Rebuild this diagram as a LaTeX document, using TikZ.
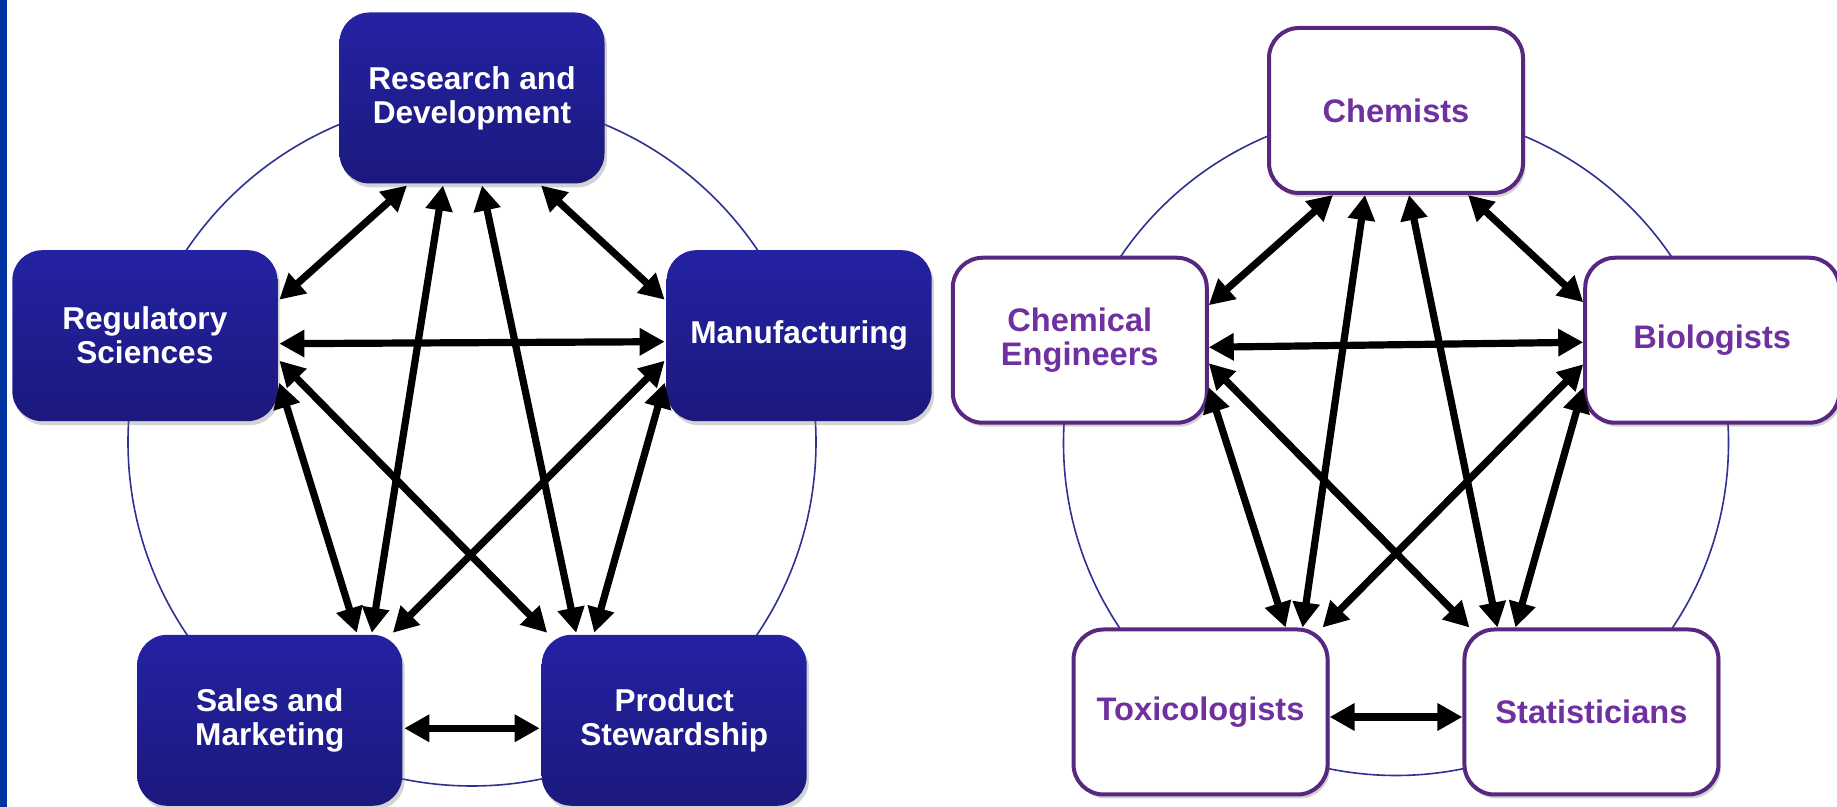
\documentclass[tikz,border=0pt]{standalone}
\usepackage{fontspec}
\setmainfont{Liberation Sans}
\usetikzlibrary{arrows.meta,calc,shadows}
\definecolor{barblue}{RGB}{0,51,160}
\definecolor{boxtop}{RGB}{36,34,162}
\definecolor{boxbot}{RGB}{27,25,125}
\definecolor{ringblue}{RGB}{46,49,146}
\definecolor{purpline}{RGB}{88,40,128}
\definecolor{purptext}{RGB}{112,48,160}

\begin{document}
\begin{tikzpicture}[x=0.5pt,y=0.5pt,
	box/.style={rectangle,rounded corners=15pt,align=center,outer sep=1pt,
		drop shadow={opacity=0.35,shadow xshift=1.2pt,shadow yshift=-2pt}},
	bluebox/.style={box,minimum width=132.5pt,minimum height=85.5pt,
		top color=boxtop,bottom color=boxbot,text=white,
		font=\bfseries\fontsize{15.8}{17}\selectfont},
	whitebox/.style={box,minimum width=127pt,minimum height=82.5pt,
		draw=purpline,line width=2pt,fill=white,text=purptext,
		font=\bfseries\fontsize{16.3}{17}\selectfont},
	ring/.style={ringblue,line width=0.8pt},
	twoway/.style={line width=3.6pt,
		{Triangle[length=12.5pt,width=13pt]}-{Triangle[length=12.5pt,width=13pt]}}]
\useasboundingbox (0,0) rectangle (1837,807);
\fill[barblue] (0,0) rectangle (7,807);

% left wheel
\draw[ring] (472,365) circle[radius=344];
\foreach \a/\n/\t in {90/rd/{Research and\\Development},162/reg/{Regulatory\\Sciences},
		18/manu/{Manufacturing},234/sales/{Sales and\\Marketing},306/prod/{Product\\Stewardship}} {
		\node[bluebox] (\n) at ($(472,365)+(\a:344)$) {\t};}

\draw[twoway] ([xshift=-32.5pt]rd.south) -- ([yshift=18pt]reg.east);
\draw[twoway] ([xshift=34.5pt]rd.south) -- ([yshift=18pt]manu.west);
\draw[twoway] ([yshift=-4pt]reg.east) -- ([yshift=-3pt]manu.west);
\draw[twoway] ([xshift=-14.5pt]rd.south) -- ([xshift=51pt]sales.north);
\draw[twoway] ([xshift=5pt]rd.south) -- ([xshift=-49pt]prod.north);
\draw[twoway] ([yshift=-12.5pt]reg.east) -- ([xshift=-63.5pt]prod.north);
\draw[twoway] ([yshift=-23.5pt]reg.east) -- ([xshift=43.5pt]sales.north);
\draw[twoway] ([yshift=-12.5pt]manu.west) -- ([xshift=61.5pt]sales.north);
\draw[twoway] ([yshift=-23.5pt]manu.west) -- ([xshift=-40pt]prod.north);
\draw[twoway] ([yshift=-4pt]sales.east) -- ([yshift=-4pt]prod.west);

% right wheel
\draw[ring] (1396,364) circle[radius=332.5];
\foreach \a/\n/\t in {90/chem/{Chemists},162/cheng/{Chemical\\Engineers},
		18/bio/{Biologists},234/tox/{Toxicologists},306/stat/{Statisticians}} {
		\node[whitebox] (\n) at ($(1396,364)+(\a:332.5)$) {\t};}

\draw[twoway] ([xshift=-31.5pt]chem.south) -- ([yshift=17.5pt]cheng.east);
\draw[twoway] ([xshift=36pt]chem.south) -- ([yshift=19pt]bio.west);
\draw[twoway] ([yshift=-3.5pt]cheng.east) -- ([yshift=-1pt]bio.west);
\draw[twoway] ([xshift=-15.5pt]chem.south) -- ([xshift=51pt]tox.north);
\draw[twoway] ([xshift=6.5pt]chem.south) -- ([xshift=-47pt]stat.north);
\draw[twoway] ([yshift=-11.5pt]cheng.east) -- ([xshift=-61pt]stat.north);
\draw[twoway] ([yshift=-23.5pt]cheng.east) -- ([xshift=42.5pt]tox.north);
\draw[twoway] ([yshift=-12pt]bio.west) -- ([xshift=61pt]tox.north);
\draw[twoway] ([yshift=-23.5pt]bio.west) -- ([xshift=-38pt]stat.north);
\draw[twoway] ([yshift=-2.5pt]tox.east) -- ([yshift=-2.5pt]stat.west);
\end{tikzpicture}
\end{document}
